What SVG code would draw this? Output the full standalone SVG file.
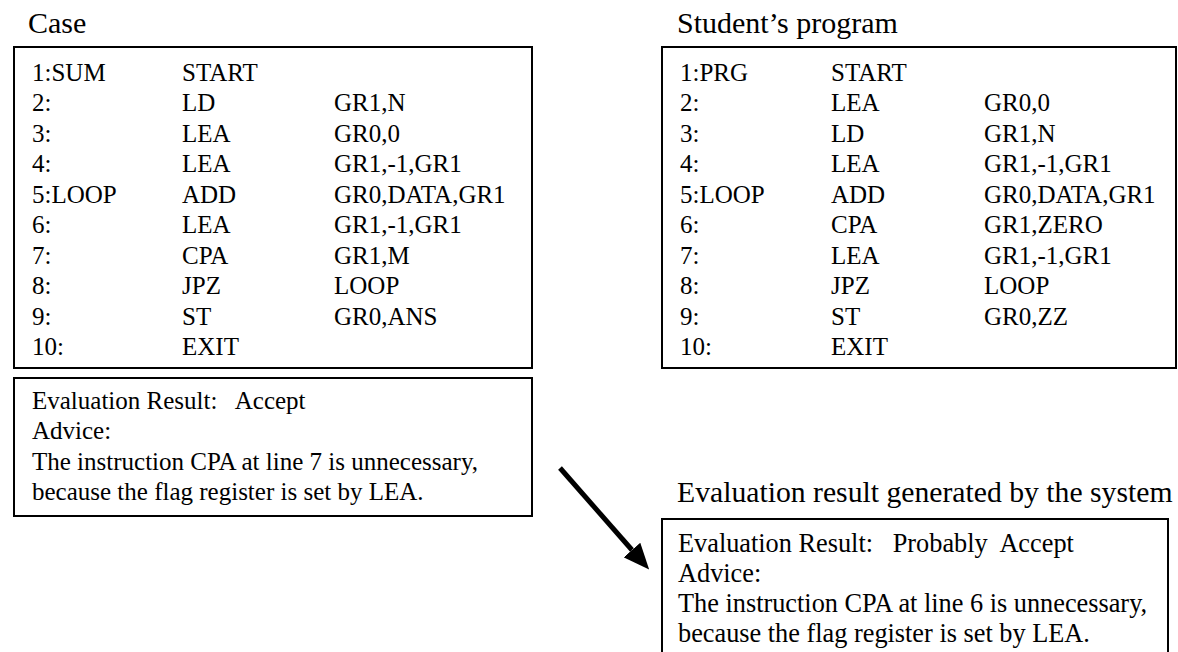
<svg xmlns="http://www.w3.org/2000/svg" width="1178" height="652" viewBox="0 0 1178 652" font-family="'Liberation Serif','Times New Roman',serif">
<style>
text{font-family:"Liberation Serif","Times New Roman",serif;fill:#000}
.h{font-size:30px}
.t{font-size:25px}
.b{font-size:26.3px}
.box{fill:#fff;stroke:#000;stroke-width:2}
</style>
<defs>
<marker id="ah" markerWidth="26" markerHeight="22" refX="0" refY="11" orient="auto" markerUnits="userSpaceOnUse">
<path d="M0,0 L26,11 L0,22 z" fill="#000"/>
</marker>
</defs>
<rect width="1178" height="652" fill="#fff"/>
<g id="case">
<text class="h" x="28" y="33">Case</text>
<rect class="box" x="14" y="47" width="518" height="321"/>
<g class="t">
<text x="32" y="81">1:SUM</text><text x="182" y="81">START</text>
<text x="32" y="111">2:</text><text x="182" y="111">LD</text><text x="334" y="111">GR1,N</text>
<text x="32" y="142">3:</text><text x="182" y="142">LEA</text><text x="334" y="142">GR0,0</text>
<text x="32" y="172">4:</text><text x="182" y="172">LEA</text><text x="334" y="172">GR1,-1,GR1</text>
<text x="32" y="203">5:LOOP</text><text x="182" y="203">ADD</text><text x="334" y="203">GR0,DATA,GR1</text>
<text x="32" y="233">6:</text><text x="182" y="233">LEA</text><text x="334" y="233">GR1,-1,GR1</text>
<text x="32" y="264">7:</text><text x="182" y="264">CPA</text><text x="334" y="264">GR1,M</text>
<text x="32" y="294">8:</text><text x="182" y="294">JPZ</text><text x="334" y="294">LOOP</text>
<text x="32" y="325">9:</text><text x="182" y="325">ST</text><text x="334" y="325">GR0,ANS</text>
<text x="32" y="355">10:</text><text x="182" y="355">EXIT</text>
</g>
</g>
<g id="case-eval">
<rect class="box" x="14" y="378" width="518" height="138"/>
<g class="t">
<text x="32" y="409" xml:space="preserve">Evaluation Result:   Accept</text>
<text x="32" y="439">Advice:</text>
<text x="32" y="470">The instruction CPA at line 7 is unnecessary,</text>
<text x="32" y="500">because the flag register is set by LEA.</text>
</g>
</g>
<g id="student">
<text class="h" x="677" y="33">Student’s program</text>
<rect class="box" x="662" y="47" width="514" height="321"/>
<g class="t">
<text x="680" y="81">1:PRG</text><text x="831" y="81">START</text>
<text x="680" y="111">2:</text><text x="831" y="111">LEA</text><text x="984" y="111">GR0,0</text>
<text x="680" y="142">3:</text><text x="831" y="142">LD</text><text x="984" y="142">GR1,N</text>
<text x="680" y="172">4:</text><text x="831" y="172">LEA</text><text x="984" y="172">GR1,-1,GR1</text>
<text x="680" y="203">5:LOOP</text><text x="831" y="203">ADD</text><text x="984" y="203">GR0,DATA,GR1</text>
<text x="680" y="233">6:</text><text x="831" y="233">CPA</text><text x="984" y="233">GR1,ZERO</text>
<text x="680" y="264">7:</text><text x="831" y="264">LEA</text><text x="984" y="264">GR1,-1,GR1</text>
<text x="680" y="294">8:</text><text x="831" y="294">JPZ</text><text x="984" y="294">LOOP</text>
<text x="680" y="325">9:</text><text x="831" y="325">ST</text><text x="984" y="325">GR0,ZZ</text>
<text x="680" y="355">10:</text><text x="831" y="355">EXIT</text>
</g>
</g>
<g id="system-eval">
<text class="h" x="677" y="502" style="font-size:29.7px">Evaluation result generated by the system</text>
<rect class="box" x="662" y="519" width="506" height="145"/>
<g class="b">
<text x="678" y="552" xml:space="preserve">Evaluation Result:   Probably  Accept</text>
<text x="678" y="582">Advice:</text>
<text x="678" y="612">The instruction CPA at line 6 is unnecessary,</text>
<text x="678" y="642">because the flag register is set by LEA.</text>
</g>
</g>
<g id="connectors">
<line x1="560" y1="468" x2="632" y2="550" stroke="#000" stroke-width="5" marker-end="url(#ah)"/>
</g>
</svg>
